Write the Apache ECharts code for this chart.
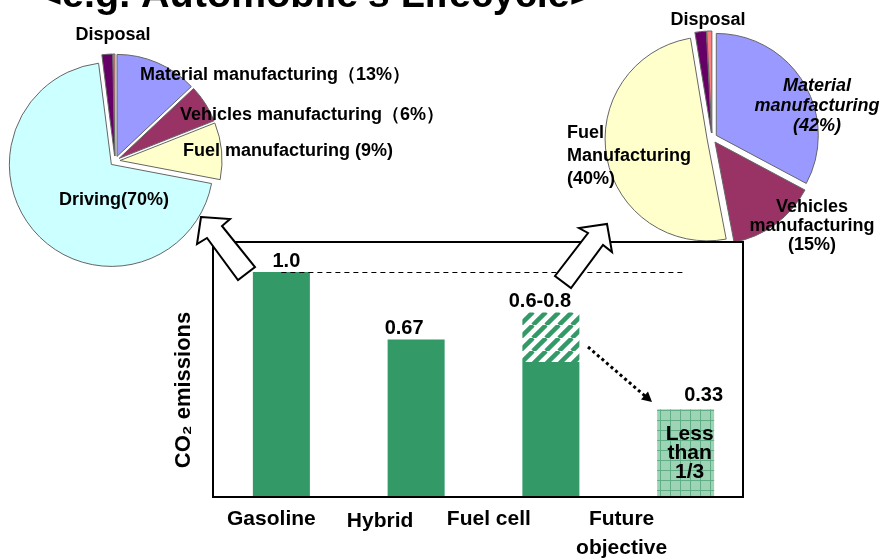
<!DOCTYPE html>
<html>
<head>
<meta charset="utf-8">
<title>CO2 emissions - Automobile's Lifecycle</title>
<script src="https://cdn.jsdelivr.net/npm/echarts@6/dist/echarts.min.js"></script>
<style>
html, body { margin: 0; padding: 0; background: #fff; }
#main { width: 885px; height: 560px; }
</style>
</head>
<body>
<div id="main"></div>
<script>
// bar chart data (heights as drawn, labels as written)
var categories = ['Gasoline', 'Hybrid', 'Fuel cell', 'Future\nobjective'];
var solidValues = [1.0, 0.70, 0.60, 0.39];
var hatchValues = ['-', '-', 0.22, '-'];
var valueLabels = ['1.0', '0.67', '0.6-0.8', '0.33'];
var futureNote = 'Less\nthan\n1/3';
var baseline = 1.0;

// left pie: gasoline car lifecycle
var leftNames = ['Material manufacturing', 'Vehicles manufacturing', 'Fuel manufacturing', 'Driving', 'Disposal', 'Other'];
var leftValues = [13, 6, 9, 70, 1.7, 0.3];
var leftLabels = ['Material manufacturing（13%）', 'Vehicles manufacturing（6%）', 'Fuel manufacturing (9%)', 'Driving(70%)', 'Disposal', ''];

// right pie: fuel cell car lifecycle
var rightNames = ['Material manufacturing', 'Vehicles manufacturing', 'Fuel manufacturing', 'Disposal', 'Other'];
var rightValues = [32.8, 14.2, 50.4, 1.8, 0.8];
var rightLabels = ['Material\nmanufacturing\n(42%)', 'Vehicles\nmanufacturing\n(15%)', 'Fuel\nManufacturing\n(40%)', 'Disposal', ''];

var FONT = "'Liberation Sans', Arial, sans-serif";
var GREEN = '#339966';
var sliceColors = {
    'Material manufacturing': '#9999FF',
    'Vehicles manufacturing': '#993366',
    'Fuel manufacturing': '#FFFFCC',
    'Driving': '#CCFFFF',
    'Disposal': '#660066',
    'Other': '#FF8080'
};

// label anchors for the pies [x, y, align, lineHeight]
var leftLabelPos = [[140, 75, 'left', 20], [180, 115, 'left', 20], [183, 151, 'left', 20], [114, 200, 'center', 20], [113, 35, 'center', 20]];
var rightLabelPos = [[817, 106, 'center', 20], [812, 226, 'center', 19], [567, 156, 'left', 23], [708, 20, 'center', 20]];

// fill patterns
function hatchPattern() {
    var s = 13;
    var c = document.createElement('canvas');
    c.width = s; c.height = s;
    var ctx = c.getContext('2d');
    ctx.fillStyle = '#fff';
    ctx.fillRect(0, 0, s, s);
    ctx.strokeStyle = GREEN;
    ctx.lineWidth = 4.5;
    for (var k = -s; k <= s; k += s) {
        ctx.beginPath();
        ctx.moveTo(k, s);
        ctx.lineTo(k + s, 0);
        ctx.stroke();
    }
    return c;
}
function gridPattern() {
    var s = 10;
    var c = document.createElement('canvas');
    c.width = s; c.height = s;
    var ctx = c.getContext('2d');
    ctx.fillStyle = '#9fd3b6';
    ctx.fillRect(0, 0, s, s);
    ctx.fillStyle = '#5fae86';
    ctx.fillRect(0, 0, s, 1);
    ctx.fillRect(0, 0, 1, s);
    return c;
}

function makePie(names, values, center) {
    return {
        type: 'pie',
        center: center,
        radius: 102,
        startAngle: 90,
        clockwise: true,
        selectedMode: 'multiple',
        selectedOffset: 5,
        emphasis: { disabled: true },
        itemStyle: { borderColor: '#666', borderWidth: 1 },
        select: { itemStyle: { borderColor: '#666', borderWidth: 1 } },
        label: { show: false },
        labelLine: { show: false },
        data: names.map(function (n, i) {
            return { name: n, value: values[i], selected: true, itemStyle: { color: sliceColors[n] } };
        })
    };
}

// slice labels of the pies, placed freely like in the slide
function pieLabels(labels, pos, italicFirst) {
    var out = [];
    labels.forEach(function (t, i) {
        if (!t) return;
        var q = pos[i];
        var style = (italicFirst && i === 0) ? 'italic bold ' : 'bold ';
        out.push({
            type: 'text', z: 70, x: q[0], y: q[1],
            style: { text: t, font: style + '18px ' + FONT, fill: '#000', lineHeight: q[3], align: q[2], verticalAlign: 'middle', textAlign: q[2], textVerticalAlign: 'middle' }
        });
    });
    return out;
}

var labelShift = [[5, 0], [-12, 0], [-11, 0], [18, -3]];
var axisPad = [[0, 20, 0, 0], [3, 72, 0, 0], [0, 124, 0, 0], [0, 128, 0, 0]];
var rich = {};
axisPad.forEach(function (p, i) {
    rich['c' + i] = { fontFamily: FONT, fontWeight: 'bold', fontSize: 21, lineHeight: 29, color: '#000', padding: p };
});

var valueLabelStyle = { fontFamily: FONT, fontWeight: 'bold', fontSize: 20, color: '#000' };

var solidData = solidValues.map(function (v, i) {
    var item = { value: v, label: Object.assign({ show: true, position: 'top', distance: 1, formatter: valueLabels[i], offset: labelShift[i] }, valueLabelStyle) };
    if (i === 2) item.label = { show: false };
    if (i === 3) {
        item.itemStyle = { color: { image: gridPattern(), repeat: 'repeat' } };
        item.label = Object.assign({ show: true, position: 'inside', formatter: futureNote, offset: [4, 0] }, valueLabelStyle, { fontSize: 21, lineHeight: 19 });
    }
    return item;
});
var hatchData = hatchValues.map(function (v, i) {
    return { value: v, label: Object.assign({ show: v !== '-', position: 'top', distance: 1, formatter: valueLabels[i], offset: labelShift[i] }, valueLabelStyle) };
});
var noteData = solidValues.map(function (v, i) {
    return i === 3 ? { value: v, label: Object.assign({ show: true, position: 'top', distance: 1, formatter: valueLabels[i], offset: labelShift[i] }, valueLabelStyle) } : '-';
});

var chart = echarts.init(document.getElementById('main'), null, { renderer: 'canvas' });
chart.setOption({
    animation: false,
    backgroundColor: '#fff',
    title: {
        text: "<e.g. Automobile's Lifecycle>",
        left: 39,
        top: -24,
        padding: 0,
        textStyle: { fontFamily: FONT, fontWeight: 'bold', fontSize: 39.5, color: '#000' }
    },
    grid: { left: 214, right: 132, top: 242, bottom: 63, outerBoundsMode: 'none', containLabel: false },
    xAxis: {
        type: 'category',
        data: categories,
        boundaryGap: true,
        axisLine: { show: false },
        axisTick: { show: false },
        axisLabel: {
            margin: 8,
            interval: 0,
            formatter: function (v, i) {
                return v.split('\n').map(function (s) { return '{c' + i + '|' + s + '}'; }).join('\n');
            },
            rich: rich
        }
    },
    yAxis: { type: 'value', min: 0, max: 1.1333, show: false, splitLine: { show: false } },
    series: [
        {
            type: 'bar', stack: 'co2', barWidth: 57, barGap: '-100%',
            itemStyle: { color: GREEN },
            emphasis: { disabled: true },
            data: solidData,
            markLine: {
                silent: true,
                symbol: ['none', 'none'],
                label: { show: false },
                lineStyle: { color: '#000', type: [5, 4], width: 1 },
                data: [[{ coord: [0, baseline] }, { coord: [3, baseline] }]]
            }
        },
        {
            type: 'bar', stack: 'co2', barWidth: 57, barGap: '-100%',
            itemStyle: { color: { image: hatchPattern(), repeat: 'repeat' } },
            emphasis: { disabled: true },
            data: hatchData
        },
        {
            type: 'bar', barWidth: 57, barGap: '-100%',
            itemStyle: { color: 'rgba(0,0,0,0)' },
            emphasis: { disabled: true },
            data: noteData
        },
        makePie(leftNames, leftValues, [115, 161]),
        makePie(rightNames, rightValues, [712, 138])
    ],
    graphic: [
        // frame round the bar chart
        { type: 'rect', z: 50, shape: { x: 213, y: 242, width: 530, height: 255 }, style: { fill: null, stroke: '#000', lineWidth: 2 } },
        // block arrows up to the pies
        { type: 'polygon', z: 60, shape: { points: [[201, 217], [230, 219], [222, 226], [255, 267], [238, 280], [207, 238], [197, 244]] }, style: { fill: '#fff', stroke: '#000', lineWidth: 2 } },
        { type: 'polygon', z: 60, shape: { points: [[607, 224], [612, 252], [603, 245], [571, 288], [555, 276], [588, 233], [579, 228]] }, style: { fill: '#fff', stroke: '#000', lineWidth: 2 } },
        // dotted arrow fuel cell -> future
        { type: 'line', z: 60, shape: { x1: 588, y1: 347, x2: 645, y2: 396 }, style: { stroke: '#000', lineWidth: 3, lineDash: [3, 3] } },
        { type: 'polygon', z: 60, shape: { points: [[652, 402], [641, 399.5], [648, 391.5]] }, style: { fill: '#000' } },
        // y axis title
        {
            type: 'text', z: 60, x: 184, y: 390, rotation: Math.PI / 2,
            style: { text: 'CO₂ emissions', font: 'bold 22px ' + FONT, fill: '#000', align: 'center', verticalAlign: 'middle', textAlign: 'center', textVerticalAlign: 'middle' }
        }
    ].concat(pieLabels(leftLabels, leftLabelPos, false), pieLabels(rightLabels, rightLabelPos, true))
});
</script>
</body>
</html>
